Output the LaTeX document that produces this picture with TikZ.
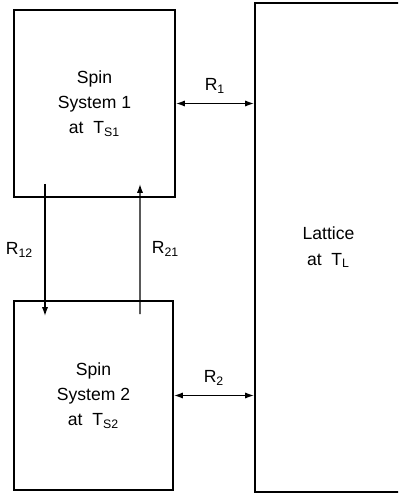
\documentclass[tikz,border=0pt]{standalone}
\usepackage{fontspec}
\setmainfont{Liberation Sans}
\usetikzlibrary{arrows.meta,positioning,calc}
\newcommand{\sub}[1]{\textsubscript{#1}}

\begin{document}
\begin{tikzpicture}[
  font=\fontsize{10}{14.5}\selectfont,
  bx/.style  = {draw, line width=1.1pt, align=center, inner sep=0pt},
  ar/.style  = {-{Latex[length=5pt,width=3.5pt]}, line width=0.8pt},
  dar/.style = {{Latex[length=5pt,width=3.5pt]}-{Latex[length=5pt,width=3.5pt]}, line width=0.8pt}
]
\useasboundingbox (0,0) rectangle (7.96,9.98);
\clip (0,0) rectangle (7.96,9.98);

% ---------- boxes ---------------------------------------------------
\node[bx, minimum width=3.22cm, minimum height=3.74cm] (spin1) at (1.89,7.91)
  {Spin\\System 1\\at\ \ T\sub{S1}};
\node[bx, minimum width=3.18cm, minimum height=3.78cm] (spin2) at (1.87,2.07)
  {Spin\\System 2\\at\ \ T\sub{S2}};
\node[bx, minimum width=2.94cm, minimum height=9.78cm] (lattice) at (6.57,5.03)
  {Lattice\\at\ \ T\sub{L}};

% ---------- spin-lattice relaxation -----------------------------------
\draw[dar] (spin1.east) -- (spin1.east -| lattice.west)
  node[midway, above=2pt] {R\sub{1}};
\draw[dar] (spin2.east) -- (spin2.east -| lattice.west)
  node[midway, above=2pt] {R\sub{2}};

% ---------- cross relaxation ------------------------------------------
\coordinate (s12) at ($(spin1.south)+(-0.99,0.28)$);
\coordinate (e12) at ($(spin2.north)+(-0.97,-0.32)$);
\coordinate (s21) at ($(spin2.north)+(0.93,-0.28)$);
\coordinate (e21) at ($(spin1.south)+(0.91,0.28)$);
\draw[ar] (s12) -- (e12) node[midway, left=3pt] {R\sub{12}};
\draw[ar] (s21) -- (e21) node[midway, right=3pt] {R\sub{21}};

\end{tikzpicture}
\end{document}
